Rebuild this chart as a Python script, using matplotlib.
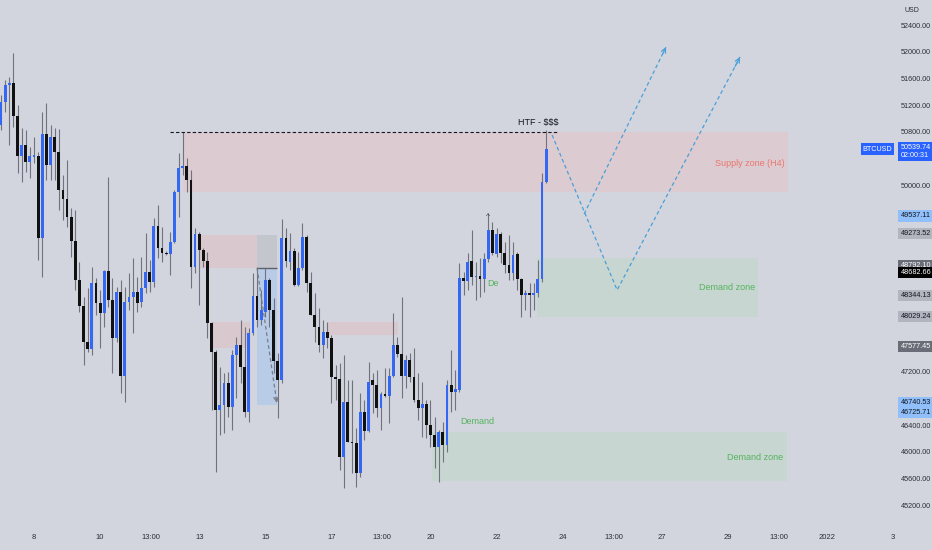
import numpy as np
import pandas as pd
import matplotlib
matplotlib.use('Agg')
import matplotlib.pyplot as plt
from matplotlib.patches import Rectangle
from matplotlib.transforms import blended_transform_factory

# BTCUSD, 3h candles from Dec 7 2021
opens = [50900, 51245, 51500, 51530, 51035, 50435, 50600, 50345, 50420, 50435,
         49205, 50765, 50300, 50720, 50495, 49925, 49790, 49520, 49160, 48575,
         48185, 47645, 47540, 48530, 48230, 48080, 48710, 48275, 47705, 48395,
         47135, 48245, 48320, 48395, 48245, 48455, 48695, 48545, 49385, 49055,
         48980, 48965, 49145, 49895, 50255, 50285, 50075, 48770, 49265, 49025,
         48860, 47930, 47495, 46625, 46700, 47030, 46670, 47450, 47600, 47270,
         46595, 47780, 48335, 47975, 48095, 48575, 48125, 47360, 47075, 49205,
         48845, 49010, 48500, 48755, 49220, 48530, 48050, 47870, 47600, 47795,
         47705, 47120, 47090, 45920, 46745, 46145, 46130, 45680, 46595, 46310,
         47075, 47000, 46655, 46865, 46835, 47135, 47600, 47465, 47135, 47375,
         47120, 46775, 46655, 46715, 46400, 46250, 46070, 46295, 46100, 47000,
         46895, 46925, 48605, 48560, 48860, 48620, 48635, 48590, 48890, 49325,
         48965, 49265, 48980, 48800, 48680, 48965, 48590, 48350, 48380, 48350,
         48380, 48590, 50045]
highs = [51350, 51575, 51620, 51980, 51200, 50855, 50825, 50570, 50720, 50495,
         51095, 51230, 50900, 50855, 50840, 50150, 50375, 49655, 49625, 48845,
         48320, 48455, 48770, 48605, 48425, 48725, 50120, 48605, 48470, 48575,
         48470, 48680, 48905, 48620, 48920, 49280, 48875, 49505, 49700, 49370,
         49010, 49295, 49925, 50480, 50795, 50405, 50225, 49355, 49295, 49055,
         48995, 47945, 47525, 47270, 47180, 47195, 47525, 47720, 47975, 47870,
         47855, 48680, 48770, 48425, 48755, 48605, 48305, 47480, 49490, 49355,
         49280, 49055, 48995, 49430, 49250, 48695, 48380, 48155, 47975, 47945,
         47750, 47300, 47330, 47450, 47075, 47075, 46355, 46880, 46775, 47345,
         47180, 47225, 46895, 47255, 47255, 48080, 47720, 48320, 47450, 47480,
         47555, 47180, 47045, 46775, 46775, 46520, 46325, 46445, 47075, 47525,
         47225, 48830, 48695, 48980, 49325, 48845, 48905, 48980, 49580, 49445,
         49355, 49295, 49145, 49250, 49145, 48995, 48605, 48425, 48530, 48530,
         48875, 50180, 50825]
lows = [50825, 51095, 50600, 50870, 50180, 50045, 50195, 50105, 50330, 48875,
        48620, 50075, 50075, 50075, 49625, 49475, 49370, 48920, 48425, 48095,
        47300, 47495, 47450, 48050, 47555, 47870, 48170, 47180, 47645, 46880,
        46745, 48125, 47780, 48095, 48170, 48380, 48395, 48470, 48905, 48845,
        48950, 48650, 49130, 49520, 50150, 49895, 48455, 48680, 48200, 48770,
        47705, 46625, 45695, 46250, 46280, 46520, 46325, 46805, 47030, 46520,
        46445, 47750, 47870, 47900, 48020, 47870, 47180, 46505, 47030, 48770,
        48725, 48485, 48485, 48725, 48395, 48050, 47645, 47495, 47405, 47555,
        46730, 46775, 45725, 45455, 46145, 45680, 45470, 45620, 46175, 46295,
        46580, 46520, 46325, 46820, 46430, 47120, 47420, 46805, 46955, 47045,
        46745, 46475, 46220, 46205, 46070, 45755, 45545, 45845, 45995, 46595,
        46625, 46895, 48350, 48425, 48500, 48275, 48320, 48395, 48845, 48950,
        48920, 48830, 48680, 48575, 48575, 48425, 48020, 48125, 48020, 48125,
        48320, 48545, 50030]
closes = [51245, 51500, 51530, 51035, 50435, 50600, 50345, 50435, 50450, 49205,
          50765, 50300, 50720, 50495, 49925, 49790, 49520, 49160, 48575, 48185,
          47645, 47540, 48530, 48230, 48080, 48710, 48275, 47705, 48395, 47135,
          48245, 48320, 48395, 48230, 48455, 48695, 48545, 49385, 49055, 48980,
          48965, 49145, 49895, 50255, 50285, 50075, 48770, 49265, 49025, 48860,
          47930, 47495, 46625, 46700, 47030, 46670, 47450, 47600, 47270, 46595,
          47780, 48335, 47975, 48125, 48575, 48125, 47360, 47075, 49205, 48860,
          49010, 48500, 48755, 49220, 48530, 48050, 47870, 47600, 47795, 47705,
          47120, 47090, 45920, 46745, 46145, 46130, 45680, 46595, 46310, 47045,
          47000, 46655, 46865, 46835, 47135, 47600, 47465, 47135, 47375, 47120,
          46775, 46655, 46715, 46400, 46250, 46070, 46295, 46100, 47000, 46895,
          46940, 48605, 48560, 48845, 48620, 48635, 48590, 48890, 49325, 48980,
          49265, 48980, 48800, 48680, 48950, 48590, 48350, 48380, 48350, 48380,
          48590, 50045, 50540]

# x axis in days since Dec 8 2021
tick_days = [0, 2, 3.54, 5, 7, 9, 10.54, 12, 14, 16, 17.54, 19, 21, 22.54, 24, 26]
tick_labels = ['8', '10', '13:00', '13', '15', '17', '13:00', '20', '22', '24',
               '13:00', '27', '29', '13:00', '2022', '3']
# price scale labels that are not hidden under the badges
price_ticks = [45200, 45600, 46000, 46400, 47200, 50000, 50800, 51200, 51600, 52000, 52400]

# (value, box colour, text colour, shift in price for stacked labels)
badges = [(49537.11, '#90bff9', '#131722', 0),
          (49273.52, '#b2b5be', '#131722', 0),
          (48792.10, '#6a6d78', 'white', 0),
          (48682.66, '#000000', 'white', 0),
          (48344.13, '#b2b5be', '#131722', 0),
          (48029.24, '#b2b5be', '#131722', 0),
          (47577.45, '#6a6d78', 'white', 0),
          (46740.53, '#90bff9', '#131722', 0),
          (46725.71, '#90bff9', '#131722', -135)]
last_price = 50539.74

# zones: (day from, day to, price low, price high, colour)
zones = [(4.51, 22.82, 49895, 50795, '#dccbd0'),    # supply H4
         (15.22, 21.90, 48020, 48905, '#c8d6d1'),   # demand upper
         (12.05, 22.79, 45560, 46295, '#c8d6d1'),   # demand lower
         (5.02, 6.75, 48755, 49250, '#d9c8ce'),
         (6.75, 7.35, 48755, 49250, '#c4c6cd'),
         (6.75, 7.35, 46700, 48755, '#b8cbe7'),
         (5.42, 6.54, 47555, 47945, '#d9c8ce'),
         (8.90, 11.02, 47750, 47945, '#d9c8ce')]

path_a = [(15.68, 50750), (17.65, 48425), (21.37, 51920)]
path_b = [(16.65, 49565), (19.13, 52070)]

BG = '#d2d5dd'
UP = '#3467f2'
DOWN = '#111111'
WICK = '#70737d'
PATH = '#4a9fd8'

plt.rcParams['font.family'] = ['Liberation Sans', 'DejaVu Sans']

fig = plt.figure(figsize=(9.32, 5.5), dpi=100, facecolor=BG)
ax = fig.add_axes([0, 23 / 550, 895 / 932, 527 / 550], facecolor=BG)
ax.set_xlim(-1.03, 26.06)
ax.set_ylim(44870, 52775)

o = np.array(opens, dtype=float)
h = np.array(highs, dtype=float)
l = np.array(lows, dtype=float)
c = np.array(closes, dtype=float)
times = pd.date_range('2021-12-07 00:00', periods=len(c), freq='3h')
x = (times - pd.Timestamp('2021-12-08')) / pd.Timedelta(days=1)
x = np.asarray(x, dtype=float)

# zones behind candles
for d0, d1, p0, p1, col in zones:
    ax.add_patch(Rectangle((d0, p0), d1 - d0, p1 - p0, fc=col, ec='none', zorder=1))
ax.hlines(48755, 6.75, 7.35, colors='#5d6069', lw=1.0, zorder=2)

# candles
cols = np.where(c >= o, UP, DOWN)
bottoms = np.minimum(o, c)
heights = np.maximum(np.abs(c - o), 18)
ax.vlines(x, l, h, colors=WICK, lw=0.8, zorder=2)
ax.bar(x, heights, width=0.085, bottom=bottoms, color=cols, zorder=3)

# HTF liquidity line
ax.hlines(50800, 4.12, 15.83, colors='#131722', lw=0.8, linestyles=(0, (3, 2)), zorder=4)
ax.text(15.25, 50930, 'HTF - $$$', ha='center', va='center', fontsize=6.5,
        color='#131722', parse_math=False, zorder=5)


def dashed_path(pts, col, arrow=True):
    xs = [p[0] for p in pts]
    ys = [p[1] for p in pts]
    ax.plot(xs, ys, color=col, lw=0.9, ls=(0, (3, 2.2)), zorder=4)
    if arrow:
        (x0, y0), (x1, y1) = pts[-2], pts[-1]
        ax.annotate('', xy=(x1, y1), xytext=(x1 - 0.04 * (x1 - x0), y1 - 0.04 * (y1 - y0)),
                    arrowprops=dict(arrowstyle='->', color=col, lw=0.9,
                                    mutation_scale=8, shrinkA=0, shrinkB=0), zorder=4)


dashed_path(path_a, PATH)
dashed_path(path_b, PATH)
dashed_path([(6.75, 48755), (7.35, 46730)], '#7a7d86')

# zone labels
ax.text(22.73, 50330, 'Supply zone (H4)', ha='right', va='center', fontsize=6.5, color='#e8776f', zorder=5)
ax.text(21.82, 48455, 'Demand zone', ha='right', va='center', fontsize=6.5, color='#56b35e', zorder=5)
ax.text(22.67, 45905, 'Demand zone', ha='right', va='center', fontsize=6.5, color='#56b35e', zorder=5)
ax.text(12.89, 46460, 'Demand', ha='left', va='center', fontsize=6.5, color='#56b35e', zorder=5)
ax.text(13.71, 48530, 'De', ha='left', va='center', fontsize=6.5, color='#56b35e', zorder=5)
ax.text(13.74, 49530, '^', ha='center', va='center', fontsize=6, color='#3a3d45', zorder=5)

# axes look
for s in ax.spines.values():
    s.set_visible(False)
ax.yaxis.tick_right()
ax.set_yticks(price_ticks)
ax.set_yticklabels([f'{v:.2f}' for v in price_ticks])
ax.set_xticks(tick_days)
ax.set_xticklabels(tick_labels)
ax.tick_params(axis='y', length=0, pad=4, labelsize=5.2, labelcolor='#2a2e39')
ax.tick_params(axis='x', length=0, pad=5, labelsize=5.5, labelcolor='#2a2e39')

tr = blended_transform_factory(ax.transAxes, ax.transData)
for val, fc, tc, shift in badges:
    ax.text(1.0063, val + shift, f'{val:.2f}', transform=tr, ha='left', va='center',
            fontsize=5.2, color=tc, clip_on=False, zorder=6,
            bbox=dict(boxstyle='square,pad=0.3', fc=fc, ec='none'))
ax.text(1.0063, last_price - 40, f'{last_price:.2f}\n02:00:31', transform=tr, ha='left',
        va='center', fontsize=5.2, color='white', linespacing=1.1, clip_on=False, zorder=6,
        bbox=dict(boxstyle='square,pad=0.3', fc='#2962ff', ec='none'))
ax.text(0.997, last_price, 'BTCUSD', transform=tr, ha='right', va='center',
        fontsize=5.2, color='white', clip_on=False, zorder=6,
        bbox=dict(boxstyle='square,pad=0.3', fc='#2962ff', ec='none'))
fig.text(912 / 932, 1 - 10 / 550, 'USD', ha='center', va='center', fontsize=5, color='#2a2e39')

fig.savefig('out.png', dpi=100, facecolor=BG)
